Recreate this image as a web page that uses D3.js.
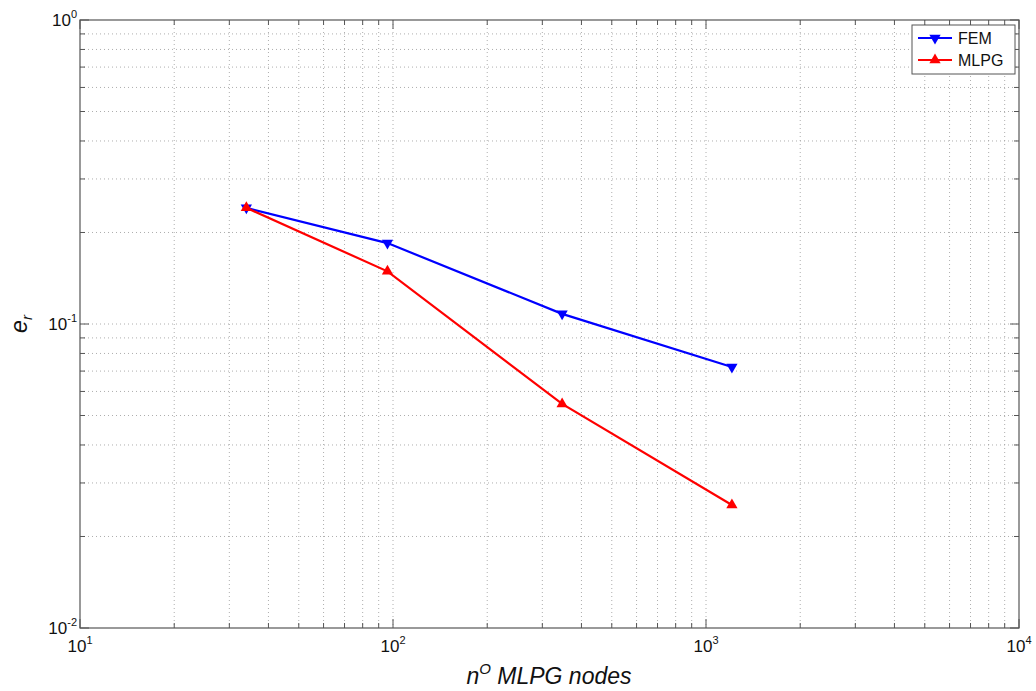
<!DOCTYPE html>
<html><head><meta charset="utf-8">
<script src="https://cdn.jsdelivr.net/npm/d3@7"></script>
<style>body{margin:0;background:#fff}svg{display:block;font-family:"Liberation Sans",Arial,sans-serif}</style>
</head><body>
<svg id="c" width="1036" height="691"></svg>
<script>
const nodes = [34, 96, 347, 1210];
const femErr = [0.241, 0.1846, 0.108, 0.0722];
const mlpgErr = [0.241, 0.149, 0.0546, 0.0254];
const xTickExp = [1, 2, 3, 4];
const yTickExp = [-2, -1, 0];
const seriesNames = ["FEM", "MLPG"];
const seriesColors = ["#0000ff", "#ff0000"];

const L = 80, R = 1019, T = 20, B = 628;
const svg = d3.select("#c");
const x = d3.scaleLog().domain([10, 10000]).range([L, R]);
const y = d3.scaleLog().domain([0.01, 1]).range([B, T]);

const xMinor = [], yMinor = [];
for (let e = 1; e < 4; e++) for (let k = 2; k <= 9; k++) xMinor.push(k * Math.pow(10, e));
for (let e = -2; e < 0; e++) for (let k = 2; k <= 9; k++) yMinor.push(k * Math.pow(10, e));
const xMajor = xTickExp.map(e => Math.pow(10, e));
const yMajor = yTickExp.map(e => Math.pow(10, e));

const grid = svg.append("g").attr("stroke", "#999").attr("stroke-width", 0.8).attr("stroke-dasharray", "1,3");
xMinor.concat(xMajor.slice(1, -1)).forEach(v => grid.append("line").attr("x1", x(v)).attr("x2", x(v)).attr("y1", T).attr("y2", B));
yMinor.concat(yMajor.slice(1, -1)).forEach(v => grid.append("line").attr("y1", y(v)).attr("y2", y(v)).attr("x1", L).attr("x2", R));

const tk = svg.append("g").attr("stroke", "#555").attr("stroke-width", 1);
xMinor.forEach(v => { tk.append("line").attr("x1", x(v)).attr("x2", x(v)).attr("y1", B).attr("y2", B - 5);
  tk.append("line").attr("x1", x(v)).attr("x2", x(v)).attr("y1", T).attr("y2", T + 5); });
xMajor.forEach(v => { tk.append("line").attr("x1", x(v)).attr("x2", x(v)).attr("y1", B).attr("y2", B - 9);
  tk.append("line").attr("x1", x(v)).attr("x2", x(v)).attr("y1", T).attr("y2", T + 9); });
yMinor.forEach(v => { tk.append("line").attr("y1", y(v)).attr("y2", y(v)).attr("x1", L).attr("x2", L + 5);
  tk.append("line").attr("y1", y(v)).attr("y2", y(v)).attr("x1", R).attr("x2", R - 5); });
yMajor.forEach(v => { tk.append("line").attr("y1", y(v)).attr("y2", y(v)).attr("x1", L).attr("x2", L + 9);
  tk.append("line").attr("y1", y(v)).attr("y2", y(v)).attr("x1", R).attr("x2", R - 9); });

svg.append("rect").attr("x", L).attr("y", T).attr("width", R - L).attr("height", B - T)
  .attr("fill", "none").attr("stroke", "#555").attr("stroke-width", 1.2);

xTickExp.forEach(e => {
  const t = svg.append("text").attr("x", x(Math.pow(10, e))).attr("y", B + 24).attr("text-anchor", "middle")
    .attr("font-size", 17).attr("fill", "#111");
  t.append("tspan").text("10");
  t.append("tspan").attr("dy", -8).attr("font-size", 11).text(String(e));
});
yTickExp.forEach(e => {
  const t = svg.append("text").attr("x", L - 3).attr("y", y(Math.pow(10, e)) + 6).attr("text-anchor", "end")
    .attr("font-size", 17).attr("fill", "#111");
  t.append("tspan").text("10");
  t.append("tspan").attr("dy", -8).attr("font-size", 11).text(String(e));
});

const xt = svg.append("text").attr("x", 549).attr("y", 684).attr("text-anchor", "middle")
  .attr("font-size", 23).attr("font-style", "italic").attr("fill", "#111");
xt.append("tspan").text("n");
xt.append("tspan").attr("dy", -10).attr("font-size", 15).text("O");
xt.append("tspan").attr("dy", 10).text(" MLPG nodes");

const yt = svg.append("text").attr("transform", "translate(27,324) rotate(-90)").attr("text-anchor", "middle")
  .attr("font-size", 23).attr("font-style", "italic").attr("fill", "#111");
yt.append("tspan").text("e");
yt.append("tspan").attr("dy", 5).attr("font-size", 15).text("r");

const line = d3.line().x(d => x(d[0])).y(d => y(d[1]));
const tri = d3.symbol().type(d3.symbolTriangle).size(55);
[femErr, mlpgErr].forEach((vals, i) => {
  const pts = nodes.map((n, j) => [n, vals[j]]);
  svg.append("path").datum(pts).attr("d", line).attr("fill", "none")
    .attr("stroke", seriesColors[i]).attr("stroke-width", 2.2);
  svg.append("g").selectAll("path").data(pts).join("path")
    .attr("d", tri).attr("fill", seriesColors[i])
    .attr("transform", d => `translate(${x(d[0])},${y(d[1])}) rotate(${i === 0 ? 180 : 0})`);
});

const lg = svg.append("g");
lg.append("rect").attr("x", 912).attr("y", 25).attr("width", 103).attr("height", 49)
  .attr("fill", "#fff").attr("stroke", "#555").attr("stroke-width", 1);
seriesNames.forEach((s, i) => {
  const yy = 38 + i * 22;
  lg.append("line").attr("x1", 918).attr("x2", 952).attr("y1", yy).attr("y2", yy)
    .attr("stroke", seriesColors[i]).attr("stroke-width", 2.2);
  lg.append("path").attr("d", tri).attr("fill", seriesColors[i])
    .attr("transform", `translate(935,${yy}) rotate(${i === 0 ? 180 : 0})`);
  lg.append("text").attr("x", 958).attr("y", yy + 6).attr("font-size", 16).attr("fill", "#111").text(s);
});
</script>
</body></html>
